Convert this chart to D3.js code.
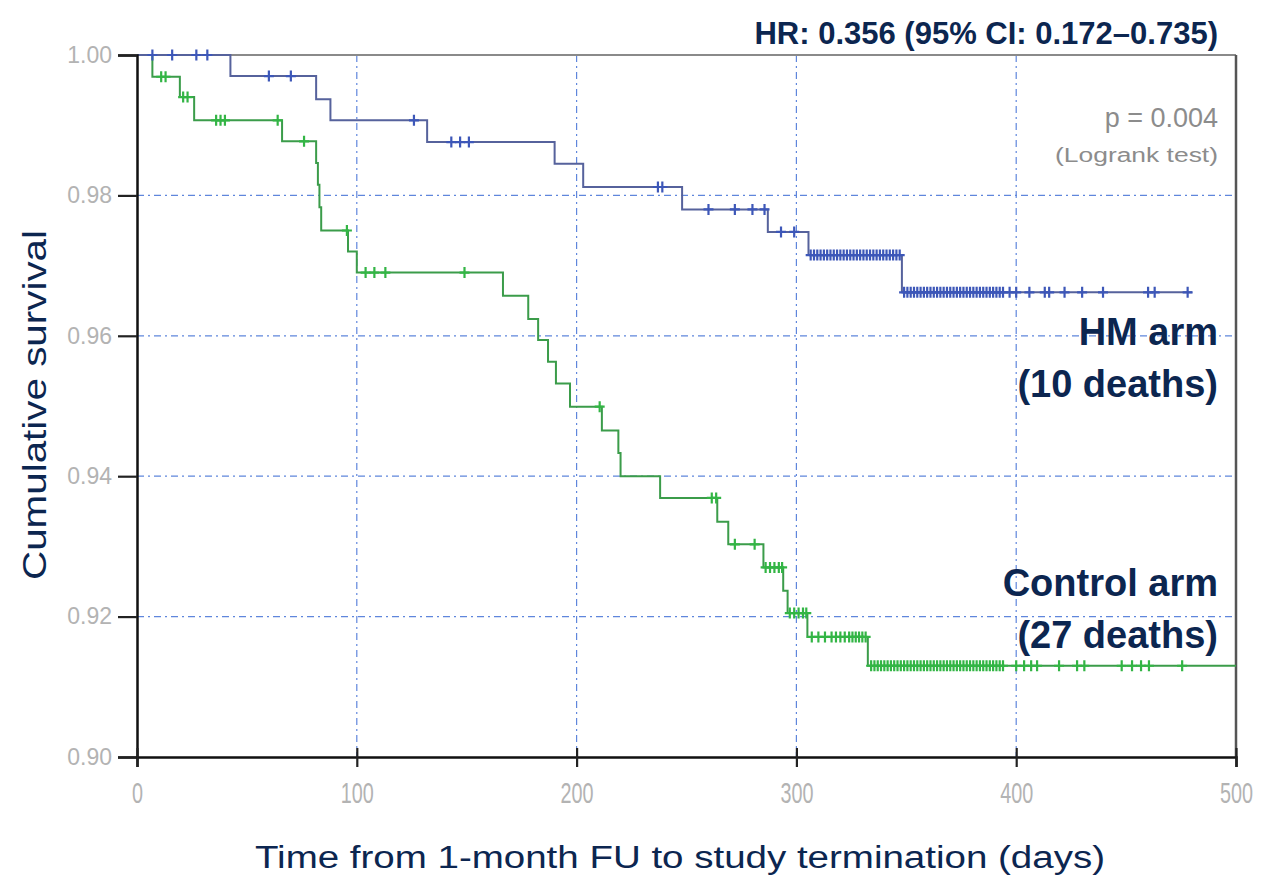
<!DOCTYPE html>
<html>
<head>
<meta charset="utf-8">
<script src="https://cdn.jsdelivr.net/npm/d3@7"></script>
<style>
  html, body { margin: 0; padding: 0; background: #fff; }
  svg { display: block; font-family: "Liberation Sans", Arial, sans-serif; }
</style>
</head>
<body>
<svg id="chart" width="1264" height="880"></svg>
<script>
// ---- Data ----
const xTicks = [0, 100, 200, 300, 400, 500];
const yTicks = [0.90, 0.92, 0.94, 0.96, 0.98, 1.00];
const yTickLabels = ["0.90", "0.92", "0.94", "0.96", "0.98", "1.00"];

// HM arm: event times and survival after each step
const hmTimes = [0, 42.5, 81.5, 88, 132, 190, 203, 248, 287, 305.5, 348];
const hmSurv  = [1.0, 0.997, 0.9937, 0.9907, 0.9876, 0.9845, 0.9812, 0.978, 0.9748, 0.9715, 0.9662];
const hmEnd = 480;
const hmCensor = [7, 16, 27, 32, 60, 70, 126, 143, 147, 151, 237, 239, 260, 272, 280, 285.5, 293, 299,
  306.5, 308, 309.5, 311, 312.5, 314, 315.5, 317, 318.5, 320, 321.5, 323, 324.5, 326, 327.5, 329, 330.5,
  332, 333.5, 335, 336.5, 338, 339.5, 341, 342.5, 344, 345.5, 347,
  349, 350.5, 352, 353.5, 355, 356.5, 358, 359.5, 361, 362.5, 364, 365.5, 367, 368.5, 370, 371.5, 373,
  374.5, 376, 377.5, 379, 380.5, 382, 383.5, 385, 386.5, 388, 389.5, 391, 392.5, 394,
  397, 400, 406, 413, 415, 422, 430, 439.5, 460, 463, 478];

// Control arm
const ctrlTimes = [0, 7, 19.5, 26, 66, 81.5, 82.3, 83, 83.8, 96, 100, 166.5, 178, 182.5, 187, 190.6, 197,
  211.5, 219, 220, 238, 264, 269, 285, 294, 296, 305, 332.5];
const ctrlSurv = [1.0, 0.9969, 0.994, 0.9907, 0.9877, 0.9846, 0.9815, 0.9783, 0.975, 0.972, 0.969, 0.9657,
  0.9624, 0.9594, 0.9563, 0.9532, 0.9499, 0.9465, 0.9433, 0.940, 0.9369, 0.9335, 0.9303, 0.927, 0.9237,
  0.9205, 0.9171, 0.913];
const ctrlEnd = 500;
const ctrlCensor = [11, 13, 21, 23, 36, 38, 40, 64, 76, 95.5, 104, 108, 113, 149, 210.5, 261.5, 263.5,
  272, 281, 286, 288, 290, 292, 293.5, 297, 299, 301, 303, 304.5, 307, 310, 313, 316, 318, 320, 322, 324,
  325.5, 327, 328.5, 330, 331.5,
  334, 335.5, 337, 338.5, 340, 341.5, 343, 344.5, 346, 347.5, 349, 350.5, 352, 353.5, 355, 356.5, 358,
  359.5, 361, 362.5, 364, 365.5, 367, 368.5, 370, 371.5, 373, 374.5, 376, 377.5, 379, 380.5, 382, 383.5,
  385, 386.5, 388, 389.5, 391, 392.5, 394,
  400, 403.6, 406.8, 409.5, 419.5, 427.7, 431, 448, 452.7, 456.8, 460.4, 475.5];

const titleText = "HR: 0.356 (95% CI: 0.172\u20130.735)";
const pText = "p = 0.004";
const testText = "(Logrank test)";
const hmLabel = ["HM arm", "(10 deaths)"];
const ctrlLabel = ["Control arm", "(27 deaths)"];
const xTitle = "Time from 1-month FU to study termination (days)";
const yTitle = "Cumulative survival";

// ---- Layout ----
const svg = d3.select("#chart");
const L = 137, R = 1236, T = 55, B = 757;
const x = d3.scaleLinear().domain([0, 500]).range([L, R]);
const y = d3.scaleLinear().domain([0.90, 1.00]).range([B, T]);

const navy = "#0c2650";
const gridColor = "#5f86dc";

// Grid
const g = svg.append("g");
g.selectAll(".hg").data(yTicks.filter(v => v > 0.9 && v < 1.0)).join("line")
  .attr("x1", L).attr("x2", R).attr("y1", d => y(d)).attr("y2", d => y(d))
  .attr("stroke", gridColor).attr("stroke-width", 1.2).attr("stroke-dasharray", "7,4,2,4");
g.selectAll(".vg").data(xTicks.filter(v => v > 0 && v < 500)).join("line")
  .attr("x1", d => x(d)).attr("x2", d => x(d)).attr("y1", T).attr("y2", B)
  .attr("stroke", gridColor).attr("stroke-width", 1.2).attr("stroke-dasharray", "7,4,2,4");

// Frame: top and right
svg.append("line").attr("x1", L).attr("x2", R).attr("y1", T).attr("y2", T)
  .attr("stroke", "#8a8a8a").attr("stroke-width", 2);
svg.append("line").attr("x1", R).attr("x2", R).attr("y1", T).attr("y2", B)
  .attr("stroke", "#555").attr("stroke-width", 2.5);

// Step function helpers
function stepPath(times, surv, end) {
  const pts = [];
  for (let i = 0; i < times.length; i++) {
    if (i > 0) pts.push([times[i], surv[i - 1]]);
    pts.push([times[i], surv[i]]);
  }
  pts.push([end, surv[surv.length - 1]]);
  return d3.line().x(d => x(d[0])).y(d => y(d[1]))(pts);
}
function survAt(times, surv, t) {
  let s = surv[0];
  for (let i = 0; i < times.length; i++) if (times[i] <= t) s = surv[i];
  return s;
}

function drawArm(times, surv, end, censor, lineColor, markColor) {
  svg.append("path").attr("d", stepPath(times, surv, end))
    .attr("fill", "none").attr("stroke", lineColor).attr("stroke-width", 2);
  svg.append("g").selectAll("path").data(censor).join("path")
    .attr("transform", d => `translate(${x(d)},${y(survAt(times, surv, d))})`)
    .attr("d", "M-5,0H5M0,-5.5V5.5")
    .attr("stroke", markColor).attr("stroke-width", 2.2).attr("fill", "none");
}
drawArm(ctrlTimes, ctrlSurv, ctrlEnd, ctrlCensor, "#3b9c4a", "#33b545");
drawArm(hmTimes, hmSurv, hmEnd, hmCensor, "#56629c", "#3d57b8");

// Axes
const yAxis = d3.axisLeft(y).tickValues(yTicks).tickFormat((d, i) => yTickLabels[i]).tickSize(19).tickPadding(6);
const ya = svg.append("g").attr("transform", `translate(${L},0)`).call(yAxis);
ya.select(".domain").attr("stroke", "#111").attr("stroke-width", 2.5);
ya.selectAll(".tick line").attr("stroke", "#222").attr("stroke-width", 2.2);
ya.selectAll(".tick text").attr("fill", "#b3b3b3").attr("font-size", 23)
  .attr("font-family", "Liberation Sans, Arial, sans-serif");

const xAxis = d3.axisBottom(x).tickValues(xTicks).tickFormat(d3.format("d")).tickSize(10).tickPadding(17);
const xa = svg.append("g").attr("transform", `translate(0,${B})`).call(xAxis);
xa.select(".domain").attr("stroke", "#111").attr("stroke-width", 2.5);
xa.selectAll(".tick line").attr("stroke", "#222").attr("stroke-width", 2.2).attr("y1", -9);
xa.selectAll(".tick text").attr("fill", "#b3b3b3").attr("font-size", 30)
  .attr("font-family", "Liberation Sans, Arial, sans-serif")
  .attr("dy", "0.62em")
  .attr("textLength", function () { return this.textContent.length * 11; })
  .attr("lengthAdjust", "spacingAndGlyphs");

// Texts
svg.append("text").attr("x", 1218).attr("y", 44).attr("text-anchor", "end")
  .attr("font-size", 31).attr("font-weight", "bold").attr("fill", navy).text(titleText);
svg.append("text").attr("x", 1218).attr("y", 127).attr("text-anchor", "end")
  .attr("font-size", 27).attr("fill", "#8c8c8c").text(pText);
svg.append("text").attr("x", 1218).attr("y", 162).attr("text-anchor", "end")
  .attr("font-size", 20).attr("fill", "#8c8c8c")
  .attr("textLength", 163).attr("lengthAdjust", "spacingAndGlyphs").text(testText);

function label(lines, y0) {
  lines.forEach((t, i) => {
    svg.append("text").attr("x", 1218).attr("y", y0 + i * 52).attr("text-anchor", "end")
      .attr("font-size", 38).attr("font-weight", "bold").attr("fill", navy).text(t);
  });
}
label(hmLabel, 345);
label(ctrlLabel, 596);

svg.append("text").attr("x", 680).attr("y", 868).attr("text-anchor", "middle")
  .attr("font-size", 31).attr("fill", navy)
  .attr("textLength", 850).attr("lengthAdjust", "spacingAndGlyphs").text(xTitle);
svg.append("text").attr("transform", "translate(46,405) rotate(-90)").attr("text-anchor", "middle")
  .attr("font-size", 34).attr("fill", navy)
  .attr("textLength", 350).attr("lengthAdjust", "spacingAndGlyphs").text(yTitle);
</script>
</body>
</html>
